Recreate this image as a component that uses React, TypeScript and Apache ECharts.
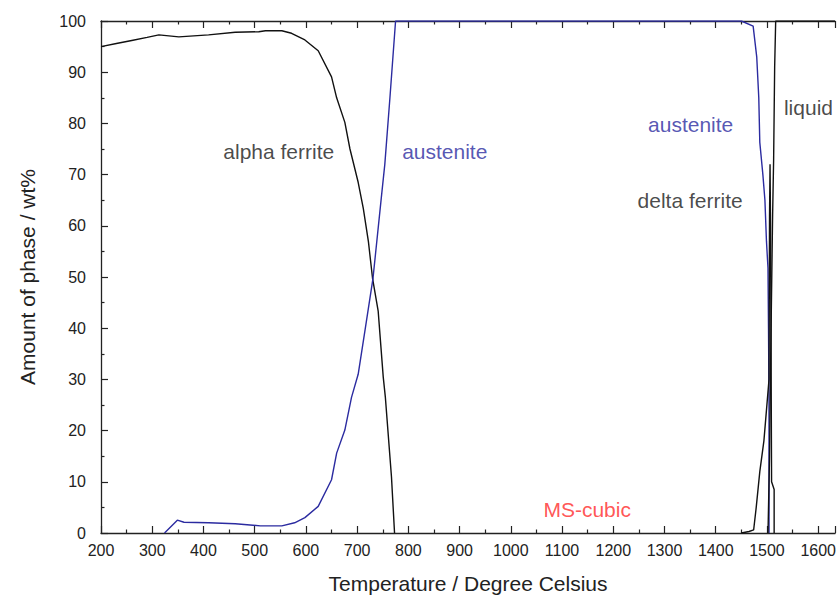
import React, { useEffect, useRef } from "react";
import * as echarts from "echarts";

const xTicks = [200, 300, 400, 500, 600, 700, 800, 900, 1000, 1100, 1200, 1300, 1400, 1500, 1600];
const yTicks = [0, 10, 20, 30, 40, 50, 60, 70, 80, 90, 100];

const alphaFerrite: [number, number][] = [
  [200, 95.0], [230, 95.6], [260, 96.2], [290, 96.8], [313, 97.3], [352, 96.9], [410, 97.3],
  [462, 97.8], [508, 97.9], [521, 98.1], [553, 98.1], [572, 97.6], [598, 96.3], [624, 94.2],
  [650, 89.1], [660, 85], [676, 80.2], [686, 75], [702, 68.5], [712, 63.4], [722, 56.9],
  [730, 49.8], [741, 43.4], [751, 30.4], [755, 26.6], [767, 11], [773, 0],
];

const austenite: [number, number][] = [
  [324, 0], [349, 2.5], [362, 2.1], [410, 2.0], [462, 1.8], [511, 1.4], [553, 1.4], [578, 2.0],
  [598, 3.0], [624, 5.2], [650, 10.4], [660, 15.6], [676, 20.1], [689, 26.5], [702, 31],
  [716, 40], [731, 49.8], [747, 65.3], [754, 72], [764, 85], [775, 100], [1450, 100],
  [1473, 99], [1480, 93], [1484, 85], [1486, 76.3], [1492, 70], [1496, 65], [1499, 57],
  [1502, 51.7], [1503, 40], [1504, 26], [1504, 0],
];

const deltaFerrite: [number, number][] = [
  [1450, 0], [1465, 0.3], [1474, 0.6], [1479, 5], [1486, 12], [1494, 18], [1499, 24],
  [1504, 30], [1505, 62], [1506, 72], [1507, 60], [1508, 35], [1509, 10], [1514, 8.5], [1514, 0],
];

const liquid: [number, number][] = [
  [1502, 0], [1505, 15], [1508, 40], [1511, 62], [1513, 73], [1515, 91], [1517, 100], [1633, 100],
];

const annotations = [
  { text: "alpha ferrite", x: 547, y: 74.6, color: "#1a1a1a" },
  { text: "austenite", x: 871, y: 74.6, color: "#2b2ba0" },
  { text: "austenite", x: 1351, y: 79.7, color: "#2b2ba0" },
  { text: "delta ferrite", x: 1350, y: 64.9, color: "#1a1a1a" },
  { text: "liquid", x: 1581, y: 83.1, color: "#1a1a1a" },
  { text: "MS-cubic", x: 1149, y: 4.65, color: "#ff2a2a" },
];

const FONT = "'Liberation Sans', Arial, sans-serif";

export default function App() {
  const ref = useRef<HTMLDivElement>(null);
  useEffect(() => {
    if (!ref.current) return;
    const chart = echarts.init(ref.current, null, { renderer: "svg" });
    const axisLine = { show: true, lineStyle: { color: "#222", width: 1.3 } };
    const tick = { show: true, inside: true, length: 7, lineStyle: { color: "#222", width: 1.2 } };
    const minor = { show: true, splitNumber: 2, length: 3.5, lineStyle: { color: "#222", width: 1.2 } };
    const lineSeries = (name: string, data: [number, number][], color: string) => ({
      name,
      type: "line",
      data,
      showSymbol: false,
      symbol: "none",
      lineStyle: { color, width: 1.4 },
      z: 3,
    });
    chart.setOption({
      animation: false,
      backgroundColor: "#fff",
      textStyle: { fontFamily: FONT },
      grid: { left: 101, top: 21, right: 0, bottom: 62, containLabel: false },
      xAxis: [
        {
          type: "value",
          min: xTicks[0],
          max: 1633,
          interval: 100,
          position: "bottom",
          name: "Temperature / Degree Celsius",
          nameLocation: "middle",
          nameGap: 40,
          nameTextStyle: { fontSize: 21, color: "#222", fontFamily: FONT },
          axisLine,
          axisTick: tick,
          minorTick: minor,
          splitLine: { show: false },
          axisLabel: {
            fontSize: 16,
            color: "#222",
            margin: 9,
            fontFamily: FONT,
            formatter: (v: number) => (xTicks.includes(v) ? String(v) : ""),
          },
        },
        {
          type: "value",
          min: xTicks[0],
          max: 1633,
          interval: 100,
          position: "top",
          axisLine,
          axisTick: tick,
          minorTick: minor,
          splitLine: { show: false },
          axisLabel: { show: false },
        },
      ],
      yAxis: {
        type: "value",
        min: yTicks[0],
        max: yTicks[yTicks.length - 1],
        interval: 10,
        name: "Amount of phase / wt%",
        nameLocation: "middle",
        nameGap: 63,
        nameTextStyle: { fontSize: 21, color: "#222", fontFamily: FONT },
        axisLine,
        axisTick: tick,
        minorTick: minor,
        splitLine: { show: false },
        axisLabel: { fontSize: 16, color: "#222", margin: 15, fontFamily: FONT },
      },
      series: [
        lineSeries("alpha ferrite", alphaFerrite, "#111"),
        lineSeries("austenite", austenite, "#2b2ba0"),
        lineSeries("delta ferrite", deltaFerrite, "#111"),
        lineSeries("liquid", liquid, "#111"),
        {
          type: "scatter",
          symbolSize: 0,
          silent: true,
          data: annotations.map((a) => ({
            value: [a.x, a.y],
            name: a.text,
            label: {
              show: true,
              formatter: a.text,
              position: "inside",
              color: a.color,
              fontSize: 21,
              fontFamily: FONT,
            },
          })),
        },
      ],
    });
    return () => chart.dispose();
  }, []);
  return <div ref={ref} style={{ width: 839, height: 599, position: "absolute", left: 0, top: 0 }} />;
}
